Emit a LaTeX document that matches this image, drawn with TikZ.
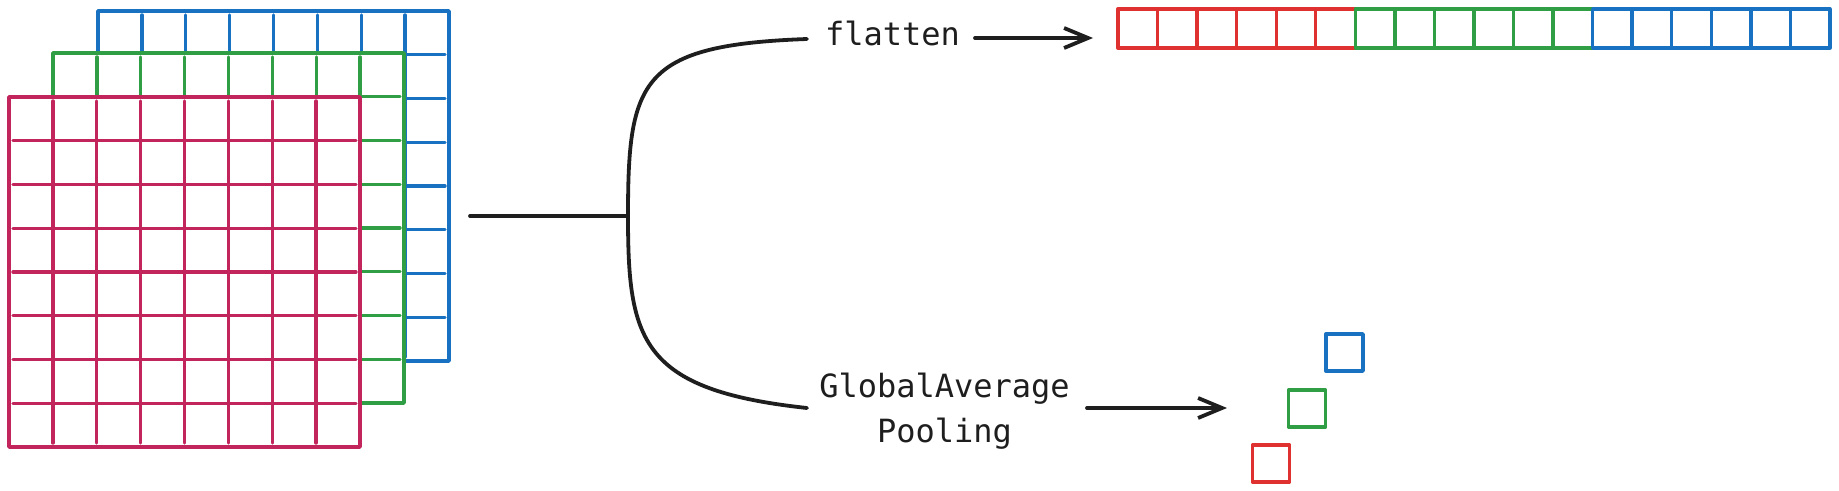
\documentclass[tikz,border=0pt]{standalone}
\usepackage{fontspec}
\newfontfamily\monofont{DejaVu Sans Mono}
\usetikzlibrary{arrows.meta}
\definecolor{gridred}{HTML}{C2255C}
\definecolor{gridgreen}{HTML}{2F9E44}
\definecolor{gridblue}{HTML}{1971C2}
\definecolor{barred}{HTML}{E03131}
\definecolor{ink}{HTML}{1E1E1E}
\tikzset{
  gridline/.style={line width=3.4pt, line cap=round, line join=round},
  inkline/.style={draw=ink, line width=3.8pt, line cap=round, line join=round},
  arr/.style={inkline, -{Straight Barb[length=24pt, width=20pt, line width=3.8pt]}},
  label/.style={font=\monofont\fontsize{32}{45}\selectfont, text=ink, inner sep=0pt, align=center},
  cell/.style={line width=3.4pt, line join=round, minimum width=37pt, minimum height=37pt, inner sep=0pt},
}
\newcommand\featgrid[3]{%
  \filldraw[gridline, draw=#3, fill=white] (#1,#2) rectangle ++(351,350);
  \foreach \i in {1,...,7}{%
    \draw[gridline, draw=#3] ({#1+\i*43.875},{#2+4}) -- ++(0,342);
    \draw[gridline, draw=#3] ({#1+4},{#2+\i*43.75}) -- ++(343,0);
  }%
}
\begin{document}
\begin{tikzpicture}[x=1pt, y=-1pt]
\useasboundingbox (0,0) rectangle (1839,490);
% feature maps
\featgrid{98}{11}{gridblue}
\featgrid{53}{53}{gridgreen}
\featgrid{9}{97}{gridred}
% stem and brace
\coordinate (stem) at (470,216);
\coordinate (junc) at (628,216);
\coordinate (topend) at (807,39);
\coordinate (botend) at (807,408);
\draw[inkline] (stem) -- (junc);
\draw[inkline] (junc) .. controls (628,80) and (640,45) .. (topend);
\draw[inkline] (junc) .. controls (628,340) and (640,390) .. (botend);
% labels
\node[label, anchor=base] (flat) at (892.5,45) {flatten};
\node[label] (gap) at (944.5,411) {GlobalAverage\\Pooling};
% flattened vector
\foreach \i in {0,...,5}{
  \draw[gridline, draw=barred] ({1118+\i*39.55},9) rectangle ++(39.55,39);
}
\foreach \i in {6,...,11}{
  \draw[gridline, draw=gridgreen] ({1118+\i*39.55},9) rectangle ++(39.55,39);
}
\foreach \i in {12,...,17}{
  \draw[gridline, draw=gridblue] ({1118+\i*39.55},9) rectangle ++(39.55,39);
}
\coordinate (barW) at (1093,38);
\coordinate (flatA) at (975,38);
\draw[arr] (flatA) -- (barW);
% pooled values
\node[cell, draw=gridblue] (pb) at (1344.5,352.5) {};
\node[cell, draw=gridgreen] (pg) at (1307,408.5) {};
\node[cell, draw=barred] (pr) at (1271,463.5) {};
\coordinate (gapA) at (1087,408);
\coordinate (gapB) at (1227,408);
\draw[arr] (gapA) -- (gapB);
\end{tikzpicture}
\end{document}
